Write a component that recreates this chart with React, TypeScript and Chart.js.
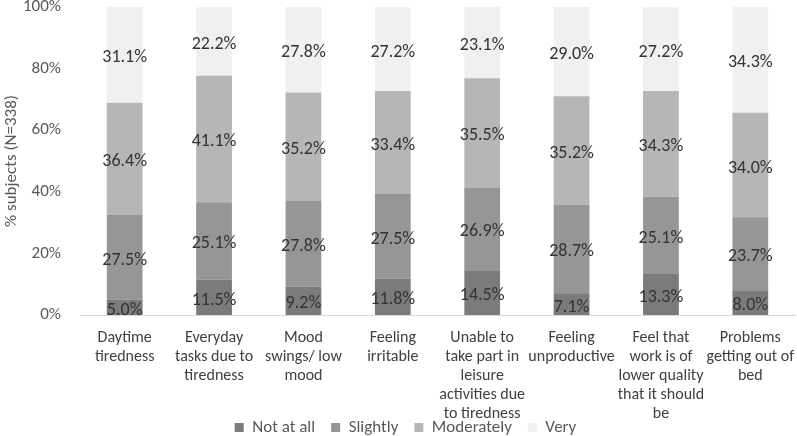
import React, { useEffect, useRef } from "react";
import { Chart, registerables } from "chart.js";
Chart.register(...registerables);

const categories: string[][] = [
  ["Daytime", "tiredness"],
  ["Everyday", "tasks due to", "tiredness"],
  ["Mood", "swings/ low", "mood"],
  ["Feeling", "irritable"],
  ["Unable to", "take part in", "leisure", "activities due", "to tiredness"],
  ["Feeling", "unproductive"],
  ["Feel that", "work is of", "lower quality", "that it should", "be"],
  ["Problems", "getting out of", "bed"],
];
const notAtAll = [5.0, 11.5, 9.2, 11.8, 14.5, 7.1, 13.3, 8.0];
const slightly = [27.5, 25.1, 27.8, 27.5, 26.9, 28.7, 25.1, 23.7];
const moderately = [36.4, 41.1, 35.2, 33.4, 35.5, 35.2, 34.3, 34.0];
const very = [31.1, 22.2, 27.8, 27.2, 23.1, 29.0, 27.2, 34.3];
const yTicks = [0, 20, 40, 60, 80, 100];

const FONT = "Carlito, Calibri, Lato, 'Open Sans', sans-serif";
const PLOT_BOTTOM = 315;

const labelPlugin = {
  id: "segLabels",
  beforeDraw(chart: any) {
    const lg = chart.legend;
    if (lg && !lg._shifted) {
      lg.left += 8;
      lg.right += 8;
      lg._shifted = true;
    }
  },
  afterDatasetsDraw(chart: any) {
    const ctx = chart.ctx;
    ctx.save();
    ctx.font = `18px ${FONT}`;
    ctx.fillStyle = "#333333";
    ctx.textAlign = "center";
    ctx.textBaseline = "middle";
    chart.data.datasets.forEach((ds: any, di: number) => {
      const meta = chart.getDatasetMeta(di);
      meta.data.forEach((bar: any, i: number) => {
        const { x, y, base } = bar.getProps(["x", "y", "base"], true);
        ctx.fillText(ds.data[i].toFixed(1) + "%", x, (y + base) / 2 + 3);
      });
    });
    ctx.restore();
  },
};

export default function App() {
  const ref = useRef<HTMLCanvasElement>(null);
  useEffect(() => {
    const chart = new Chart(ref.current!, {
      type: "bar",
      data: {
        labels: categories,
        datasets: [
          { label: "Not at all", data: notAtAll, backgroundColor: "#7b7b7b" },
          { label: "Slightly", data: slightly, backgroundColor: "#969696" },
          { label: "Moderately", data: moderately, backgroundColor: "#b6b6b6" },
          { label: "Very", data: very, backgroundColor: "#f0f0f0" },
        ],
      },
      options: {
        animation: false,
        responsive: false,
        maintainAspectRatio: false,
        layout: { padding: { left: 0, right: 2, top: 7, bottom: 0 } },
        datasets: { bar: { categoryPercentage: 1, barPercentage: 0.4 } },
        plugins: {
          tooltip: { enabled: false },
          legend: {
            position: "bottom",
            maxHeight: 33,
            labels: {
              boxWidth: 9,
              boxHeight: 9,
              padding: 16,
              color: "#595959",
              font: { family: FONT, size: 17 },
            },
          },
        },
        scales: {
          x: {
            stacked: true,
            grid: { display: false },
            border: { display: true, color: "#d9d9d9", width: 1 },
            afterFit: (s: any) => {
              const lh = s.chart.legend ? s.chart.legend.height : 33;
              s.height = 436 - PLOT_BOTTOM - lh;
              s.paddingLeft = 0;
              s.paddingRight = 0;
              s._computeLabelArea = () => undefined;
            },
            ticks: {
              color: "#404040",
              font: { family: FONT, size: 16, lineHeight: 1.2 },
              maxRotation: 0,
              autoSkip: false,
              padding: 5,
            },
          },
          y: {
            stacked: true,
            min: 0,
            max: 100,
            afterBuildTicks: (s: any) => {
              s.ticks = yTicks.map((v) => ({ value: v }));
            },
            afterFit: (s: any) => {
              s.width = 80;
              s.paddingTop = 0;
              s.paddingBottom = 0;
            },
            grid: { display: false },
            border: { display: false },
            ticks: {
              color: "#595959",
              font: { family: FONT, size: 17 },
              padding: 11,
              callback: (v: any) => v + "%",
            },
            title: {
              display: true,
              text: "% subjects (N=338)",
              color: "#595959",
              font: { family: FONT, size: 17 },
              padding: 2,
            },
          },
        },
      },
      plugins: [labelPlugin],
    });
    return () => chart.destroy();
  }, []);
  return (
    <div style={{ position: "fixed", left: 0, top: 0, width: 797, height: 436, background: "#fff" }}>
      <canvas ref={ref} width={797} height={436} style={{ width: 797, height: 436 }} />
    </div>
  );
}
